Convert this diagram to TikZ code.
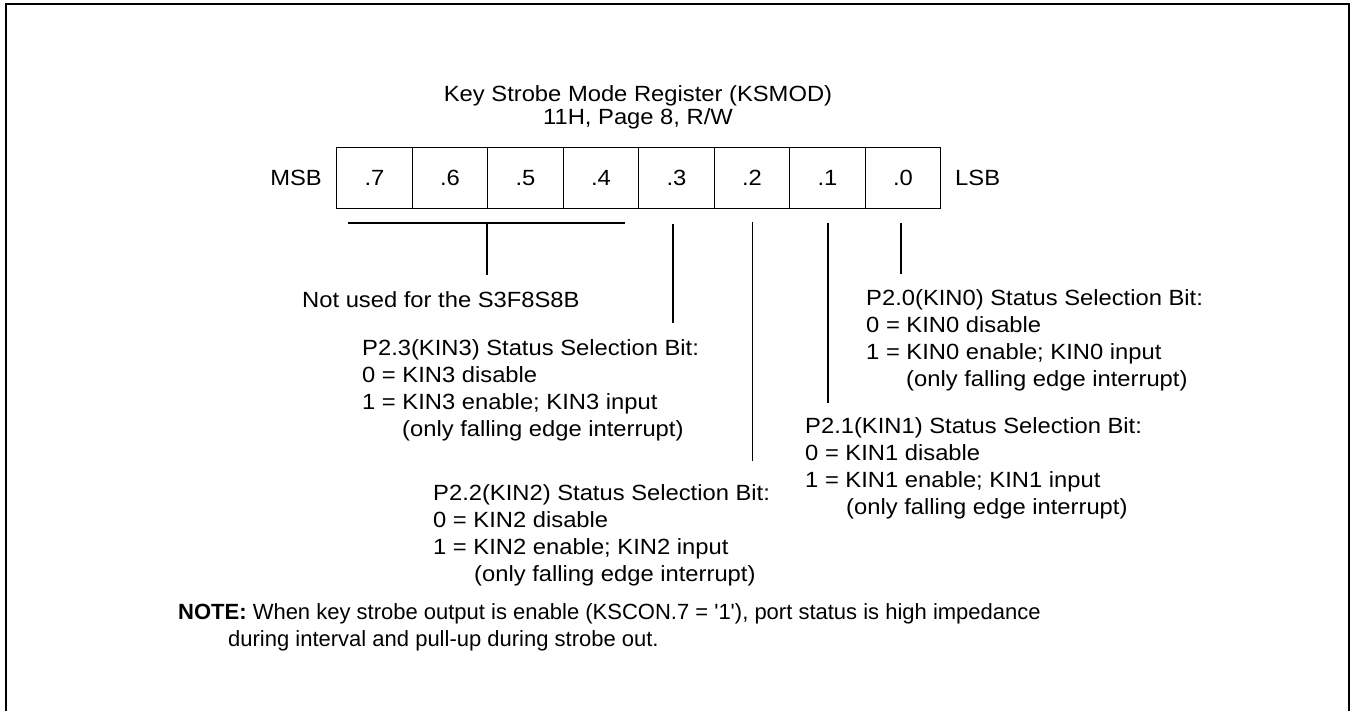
\documentclass[tikz,border=0pt]{standalone}
\usepackage{fontspec}
\setmainfont{Liberation Sans}
\newfontfamily\bodyfont[FakeStretch=1.08]{Liberation Sans}
\newfontfamily\notefont{Liberation Sans}
\begin{document}
\begin{tikzpicture}[x=1pt,y=-1pt,
  frameline/.style={line width=2.2pt},
  cell/.style={draw, line width=1.4pt, minimum width=75.5pt, minimum height=61pt, inner sep=0pt, anchor=north west, font=\bodyfont\fontsize{22}{26}\selectfont},
  lead/.style={line width=1.3pt},
  txt/.style={anchor=base west, inner sep=0pt, font=\bodyfont\fontsize{22}{26}\selectfont},
  ttl/.style={anchor=base, inner sep=0pt, font=\bodyfont\fontsize{22}{26}\selectfont},
  notetxt/.style={anchor=base west, inner sep=0pt, font=\notefont\fontsize{22}{26}\selectfont}]
\useasboundingbox (0,0) rectangle (1356,711);
% outer frame (open at bottom)
\coordinate (fa) at (6,711);
\coordinate (fb) at (6,4);
\coordinate (fc) at (1349,4);
\coordinate (fd) at (1349,711);
\draw[frameline] (fa) -- (fb) -- (fc) -- (fd);
% title
\node[ttl] (t1) at (638,102) {Key Strobe Mode Register (KSMOD)};
\node[ttl] (t2) at (638,125) {11H, Page 8, R/W};
% register
\foreach \i/\b in {0/7,1/6,2/5,3/4,4/3,5/2,6/1,7/0}
  \node[cell] (b\b) at ({336+75.5*\i},147) {.\b};
\node[txt, anchor=east] (msb) at (322,177.5) {MSB};
\node[txt, anchor=west] (lsb) at (955,177.5) {LSB};
% leaders
\coordinate (h1) at (348,223);
\coordinate (h2) at (625,223);
\coordinate (hm) at (487,223);
\coordinate (hn) at (487,275);
\draw[lead] (h1) -- (h2);
\draw[lead] (hm) -- (hn);
\coordinate (l3a) at (673,224);
\coordinate (l3b) at (673,323);
\coordinate (l2a) at (752.5,222);
\coordinate (l2b) at (752.5,461);
\coordinate (l1a) at (828,223);
\coordinate (l1b) at (828,403);
\coordinate (l0a) at (901,223);
\coordinate (l0b) at (901,274);
\draw[lead] (l3a) -- (l3b);
\draw[lead] (l2a) -- (l2b);
\draw[lead] (l1a) -- (l1b);
\draw[lead] (l0a) -- (l0b);
% texts
\node[txt] (nu) at (302,307.5) {Not used for the S3F8S8B};
% KIN3
\node[txt] (k3a) at (362,355) {P2.3(KIN3) Status Selection Bit:};
\node[txt] (k3b) at (362,382) {0 = KIN3 disable};
\node[txt] (k3c) at (362,409) {1 = KIN3 enable; KIN3 input};
\node[txt] (k3d) at (402,436) {(only falling edge interrupt)};
% KIN2
\node[txt] (k2a) at (433,500) {P2.2(KIN2) Status Selection Bit:};
\node[txt] (k2b) at (433,527) {0 = KIN2 disable};
\node[txt] (k2c) at (433,554) {1 = KIN2 enable; KIN2 input};
\node[txt] (k2d) at (474,581) {(only falling edge interrupt)};
% KIN0
\node[txt] (k0a) at (866,305) {P2.0(KIN0) Status Selection Bit:};
\node[txt] (k0b) at (866,332) {0 = KIN0 disable};
\node[txt] (k0c) at (866,359) {1 = KIN0 enable; KIN0 input};
\node[txt] (k0d) at (906,386) {(only falling edge interrupt)};
% KIN1
\node[txt] (k1a) at (805,433.5) {P2.1(KIN1) Status Selection Bit:};
\node[txt] (k1b) at (805,460.5) {0 = KIN1 disable};
\node[txt] (k1c) at (805,487.5) {1 = KIN1 enable; KIN1 input};
\node[txt] (k1d) at (846,514.5) {(only falling edge interrupt)};
% note
\node[notetxt] (n1) at (178,619) {\textbf{NOTE:} When key strobe output is enable (KSCON.7 = '1'), port status is high impedance};
\node[notetxt] (n2) at (228,646) {during interval and pull-up during strobe out.};
\end{tikzpicture}
\end{document}
